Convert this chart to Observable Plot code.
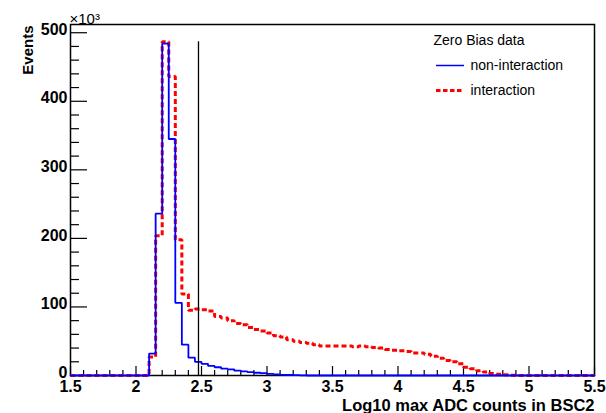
<!DOCTYPE html>
<html><head><meta charset="utf-8">
<script src="https://cdn.jsdelivr.net/npm/d3@7"></script>
<script src="https://cdn.jsdelivr.net/npm/@observablehq/plot@0.6"></script>
<style>
html,body{margin:0;padding:0;background:#fff;}
</style></head><body><div id="chart"></div>
<script>
// ---- data ----
const binStart = 2.10;
const binWidth = 0.05;
// non-interaction (x10^3 events), bins of 0.05 starting at 2.10
const nonInteraction = [32, 236, 484, 345, 106, 45, 26, 20, 17, 14, 12, 10, 9, 7, 6, 5, 4, 3.5, 2.5, 1.5, 1, 0.7, 0.5, 0.3];
// interaction (x10^3 events), bins of 0.05 starting at 2.10
const interaction = [27, 204, 487, 436, 198, 119, 95, 97, 96, 94, 86, 84, 80, 76, 74, 70, 67, 65, 62, 58, 56, 52, 50, 48, 47, 45, 43, 43, 43, 43, 43, 42, 43, 42, 41, 40, 38, 37, 36, 35, 33, 33, 31, 28, 25, 22, 20, 17, 12, 10, 7, 5, 3, 2, 1, 0.5];
const cutValue = 2.477;
const cutHeight = 487;
const xDomain = [1.5, 5.5];
const yDomain = [0, 512];
const xMajorTicks = [1.5, 2, 2.5, 3, 3.5, 4, 4.5, 5, 5.5];
const xMinorTicks = [1.6,1.7,1.8,1.9,2.1,2.2,2.3,2.4,2.6,2.7,2.8,2.9,3.1,3.2,3.3,3.4,3.6,3.7,3.8,3.9,4.1,4.2,4.3,4.4,4.6,4.7,4.8,4.9,5.1,5.2,5.3,5.4];
const yMajorTicks = [0, 100, 200, 300, 400, 500];
const yMinorTicks = [20,40,60,80,120,140,160,180,220,240,260,280,320,340,360,380,420,440,460,480];
const xTitle = "Log10 max ADC counts in BSC2";
const yTitle = "Events";
const yMultiplier = "×10³";
const legendTitle = "Zero Bias data";
const seriesNames = ["non-interaction", "interaction"];
const seriesColors = ["#0000ff", "#ff0000"];

// ---- helpers ----
function steps(values) {
  const pts = [{x: xDomain[0], y: 0}];
  values.forEach((v, i) => pts.push({x: +(binStart + i * binWidth).toFixed(3), y: v}));
  pts.push({x: +(binStart + values.length * binWidth).toFixed(3), y: 0});
  pts.push({x: xDomain[1], y: 0});
  return pts;
}

const W = 606, H = 413, mL = 70, mR = 12, mT = 24, mB = 38;
const frameW = W - mL - mR, frameH = H - mT - mB;
const font = "'Liberation Sans', Arial, Helvetica, sans-serif";

// legend layout (data-space positions of the legend swatches)
const xs = d3.scaleLinear(xDomain, [mL, W - mR]);
const ys = d3.scaleLinear(yDomain, [H - mB, mT]);
const sw = {x1: xs.invert(436), x2: xs.invert(464)};
const legendY = [ys.invert(65), ys.invert(90)];

const chart = Plot.plot({
  width: W, height: H,
  marginLeft: mL, marginRight: mR, marginTop: mT, marginBottom: mB,
  x: {domain: xDomain},
  y: {domain: yDomain},
  style: {fontFamily: font, fontSize: "16px", fontWeight: "bold", background: "#fff", color: "#000"},
  marks: [
    // inward ticks
    Plot.tickX(xMajorTicks, {x: d => d, insetTop: frameH - 9, stroke: "#000", strokeWidth: 1.2}),
    Plot.tickX(xMinorTicks, {x: d => d, insetTop: frameH - 5, stroke: "#000", strokeWidth: 1.2}),
    Plot.tickY(yMajorTicks, {y: d => d, insetRight: frameW - 17, stroke: "#000", strokeWidth: 1.2}),
    Plot.tickY(yMinorTicks, {y: d => d, insetRight: frameW - 9, stroke: "#000", strokeWidth: 1.2}),
    Plot.axisX({ticks: xMajorTicks, tickSize: 0, tickPadding: 5, tickFormat: d => String(d), label: null, fontSize: 16}),
    Plot.axisY({ticks: yMajorTicks, tickSize: 0, tickPadding: 3, dy: -3, tickFormat: d => String(d), label: null, fontSize: 16}),
    Plot.frame({stroke: "#000", strokeWidth: 1.5}),
    // histograms
    Plot.lineY(steps(interaction), {x: "x", y: "y", curve: "step-after", stroke: seriesColors[1], strokeWidth: 3, strokeDasharray: "5,3", strokeLinecap: "butt", strokeLinejoin: "miter"}),
    Plot.lineY(steps(nonInteraction), {x: "x", y: "y", curve: "step-after", stroke: seriesColors[0], strokeWidth: 1.8, strokeLinejoin: "miter"}),
    Plot.ruleX([cutValue], {x: d => d, y1: 0, y2: cutHeight, stroke: "#000", strokeWidth: 1.3}),
    // titles
    Plot.text([xTitle], {text: d => d, frameAnchor: "bottom-right", textAnchor: "end", lineAnchor: "middle", dy: 30, fontSize: 16.5}),
    Plot.text([yTitle], {text: d => d, frameAnchor: "top-left", textAnchor: "end", lineAnchor: "middle", rotate: -90, dx: -42, dy: 1, fontSize: 15}),
    Plot.text([yMultiplier], {text: d => d, frameAnchor: "top-left", textAnchor: "start", lineAnchor: "bottom", dx: -1, dy: -1, fontSize: 15, fontWeight: "normal"}),
    // legend
    Plot.text([legendTitle], {text: d => d, frameAnchor: "top-right", textAnchor: "start", lineAnchor: "middle", dx: -161, dy: 16, fontSize: 14, fontWeight: "normal"}),
    Plot.ruleY([legendY[0]], {y: d => d, x1: sw.x1, x2: sw.x2, stroke: seriesColors[0], strokeWidth: 1.5}),
    Plot.ruleY([legendY[1]], {y: d => d, x1: sw.x1, x2: sw.x2, stroke: seriesColors[1], strokeWidth: 3, strokeDasharray: "4.5,2.5", strokeLinecap: "butt"}),
    Plot.text([seriesNames[0]], {text: d => d, frameAnchor: "top-right", textAnchor: "start", lineAnchor: "middle", dx: -124, dy: 41, fontSize: 14, fontWeight: "normal"}),
    Plot.text([seriesNames[1]], {text: d => d, frameAnchor: "top-right", textAnchor: "start", lineAnchor: "middle", dx: -124, dy: 66, fontSize: 14, fontWeight: "normal"})
  ]
});
document.getElementById("chart").appendChild(chart);
</script>
</body></html>
